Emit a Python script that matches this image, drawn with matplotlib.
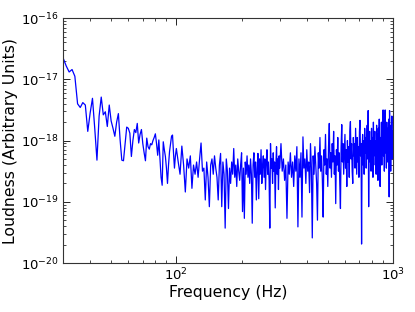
import numpy as np
import matplotlib
matplotlib.use("Agg")
import matplotlib.pyplot as plt

# log10 of loudness
# 30..100 Hz, 1 Hz steps
low_f_start, low_f_step = 30, 1
low_log = [
    -16.65, -16.78, -16.88, -16.84, -16.95, -17.40, -17.46, -17.38, -17.42, -17.85,
    -17.55, -17.31, -17.80, -18.32, -17.60, -17.29, -17.58, -17.53, -17.77, -17.42,
    -17.68, -17.80, -17.93, -17.70, -17.56, -17.99, -18.32, -18.33, -18.05, -17.78,
    -17.80, -17.88, -18.26, -18.00, -17.82, -17.87, -17.72, -18.04, -17.90, -17.82,
    -18.05, -18.20, -18.33, -17.96, -18.10, -18.14, -18.05, -18.07, -18.00, -17.95,
    -17.89, -18.05, -18.24, -17.99, -18.30, -18.60, -18.73, -18.02, -18.15, -18.26,
    -18.45, -18.70, -18.40, -18.18, -18.05, -17.93, -17.91, -18.20, -18.45, -18.25,
    -18.13,
]

# 102..300 Hz, 2 Hz steps
mid_f_start, mid_f_step = 102, 2
mid_log = [
    -18.35, -18.55, -18.09, -18.40, -18.84, -18.30, -18.45, -18.25, -18.78, -18.40,
    -18.55, -18.35, -18.60, -18.30, -18.04, -18.50, -18.45, -18.97, -18.35, -18.60,
    -19.08, -18.40, -18.30, -18.55, -18.25, -18.45, -18.60, -18.97, -18.40, -18.21,
    -19.08, -18.35, -18.55, -19.43, -18.30, -18.50, -19.11, -18.45, -18.70, -18.35,
    -18.55, -18.13, -18.60, -18.40, -18.75, -18.30, -18.50, -18.65, -18.40, -18.20,
    -19.16, -18.45, -19.27, -18.35, -18.55, -18.25, -18.60, -18.40, -18.70, -18.30,
    -18.55, -19.35, -18.40, -18.20, -18.60, -18.35, -18.97, -18.45, -18.21, -18.95,
    -18.30, -18.55, -18.15, -18.70, -18.40, -18.25, -18.60, -18.30, -18.80, -18.35,
    -18.15, -18.55, -18.35, -18.65, -19.43, -18.05, -18.45, -18.30, -18.70, -18.20,
    -18.50, -18.35, -19.10, -18.40, -18.10, -18.55, -18.30, -18.80, -18.25, -18.45,
]

# 304..1000 Hz, 4 Hz steps
high_f_start, high_f_step = 304, 4
high_log = [
    -18.05, -18.50, -18.30, -18.65, -18.40, -19.27, -18.35, -18.55, -18.20, -18.60,
    -18.35, -18.75, -18.25, -18.50, -18.10, -19.41, -18.30, -18.60, -18.20, -19.25,
    -17.94, -18.45, -18.30, -18.70, -18.15, -18.50, -18.35, -18.85, -18.05, -18.45,
    -19.59, -18.25, -18.55, -18.10, -18.40, -18.70, -19.30, -18.20, -18.45, -17.95,
    -18.50, -18.25, -18.65, -19.25, -18.15, -18.40, -17.90, -18.55, -18.30, -18.75,
    -18.10, -17.72, -18.45, -18.20, -18.60, -18.05, -18.35, -17.85, -18.55, -18.25,
    -19.03, -18.15, -18.40, -17.95, -18.50, -18.20, -18.70, -19.11, -18.10, -17.74,
    -18.35, -18.05, -18.55, -18.20, -17.90, -18.45, -18.15, -18.75, -18.00, -18.35,
    -18.10, -18.60, -17.85, -17.69, -18.30, -18.05, -18.50, -18.70, -17.95, -18.25,
    -18.05, -18.45, -17.80, -18.20, -18.55, -17.95, -18.35, -18.10, -18.60, -17.85,
    -17.67, -18.25, -18.05, -19.69, -18.15, -17.90, -18.40, -18.00, -18.55, -17.80,
    -18.20, -17.95, -18.45, -18.05, -17.75, -18.30, -17.51, -19.08, -18.10, -17.85,
    -18.35, -18.00, -18.50, -17.80, -18.15, -17.95, -18.60, -17.70, -18.25, -18.05,
    -17.85, -18.40, -18.00, -18.55, -17.75, -18.20, -17.90, -18.65, -17.80, -18.10,
    -17.65, -18.30, -18.75, -17.95, -18.15, -17.70, -18.40, -17.85, -18.05, -17.50,
    -18.25, -17.90, -18.50, -17.75, -17.50, -18.20, -17.85, -18.45, -17.70, -18.00,
    -18.35, -17.80, -18.10, -17.65, -18.92, -17.51, -18.15, -17.90, -18.50, -17.75,
    -18.05, -17.60, -18.30, -17.85, -18.10,
]

x_ticks = [1e2, 1e3]
y_ticks = [1e-20, 1e-19, 1e-18, 1e-17, 1e-16]

freq = np.concatenate([
    low_f_start + low_f_step * np.arange(len(low_log)),
    mid_f_start + mid_f_step * np.arange(len(mid_log)),
    high_f_start + high_f_step * np.arange(len(high_log)),
])
loud = 10.0 ** np.array(low_log + mid_log + high_log)

fig = plt.figure(figsize=(4.15, 3.12), dpi=100)
ax = fig.add_axes([0.152, 0.157, 0.795, 0.785])
ax.loglog(freq, loud, color='#0000ff', linewidth=0.9)
ax.set_xticks(x_ticks)
ax.set_yticks(y_ticks)
ax.set_xlim(30, 1000)
ax.set_ylim(1e-20, 1e-16)
ax.set_xlabel('Frequency (Hz)', fontsize=11.3, labelpad=1)
ax.set_ylabel('Loudness (Arbitrary Units)', fontsize=11.3, labelpad=2)
ax.tick_params(which='both', direction='in', top=True, right=True, labelsize=9.5)
ax.tick_params(which='major', length=5, width=0.6, pad=3)
ax.tick_params(which='minor', length=2.5, width=0.5)
for s in ax.spines.values():
    s.set_linewidth(0.8)
    s.set_color('#333333')
fig.savefig('out.png', dpi=100)
